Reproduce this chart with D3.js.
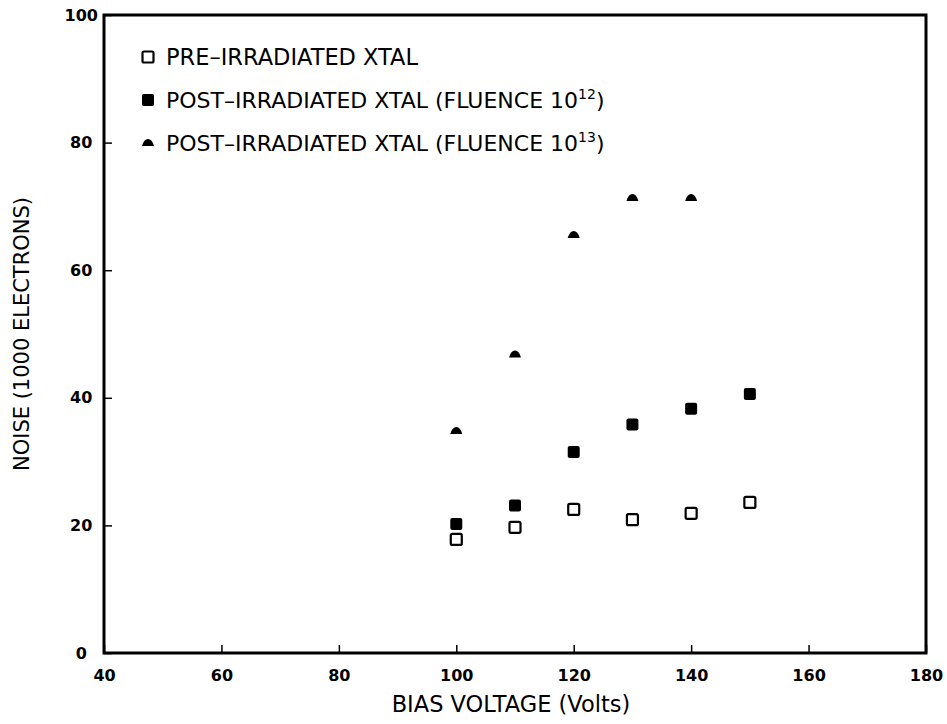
<!DOCTYPE html>
<html>
<head>
<meta charset="utf-8">
<script src="https://cdn.jsdelivr.net/npm/d3@7"></script>
<style>
  body { margin: 0; background: #fff; }
  text { font-family: "DejaVu Sans", sans-serif; fill: #000; }
</style>
</head>
<body>
<svg id="chart" width="947" height="724"></svg>
<script>
// bias voltage (Volts)
const voltages = [100, 110, 120, 130, 140, 150];
const voltages13 = [100, 110, 120, 130, 140];

// noise (1000 electrons)
const preIrradiated = [17.8, 19.7, 22.5, 20.9, 21.9, 23.6];
const postFluence12 = [20.2, 23.1, 31.5, 35.8, 38.3, 40.6];
const postFluence13 = [34.8, 46.8, 65.5, 71.3, 71.3];

const xTicks = [40, 60, 80, 100, 120, 140, 160, 180];
const yTicks = [0, 20, 40, 60, 80, 100];

const svg = d3.select("#chart");

const plotLeft = 104, plotRight = 926, plotTop = 15, plotBottom = 653;

const x = d3.scaleLinear().domain([40, 180]).range([plotLeft, plotRight]);
const y = d3.scaleLinear().domain([0, 100]).range([plotBottom, plotTop]);

// frame
svg.append("rect")
    .attr("x", plotLeft)
    .attr("y", plotTop)
    .attr("width", plotRight - plotLeft)
    .attr("height", plotBottom - plotTop)
    .attr("fill", "none")
    .attr("stroke", "#000")
    .attr("stroke-width", 3);

// axes with small inward ticks
const xAxis = svg.append("g")
    .attr("transform", "translate(0," + plotBottom + ")")
    .call(d3.axisBottom(x).tickValues(xTicks).tickSize(-8).tickPadding(17).tickFormat(d3.format("d")));
xAxis.select(".domain").remove();
xAxis.selectAll("line").attr("stroke-width", 1.5);
xAxis.selectAll("text")
    .style("font-size", "16px")
    .style("font-weight", "bold");

const yAxis = svg.append("g")
    .attr("transform", "translate(" + plotLeft + ",0)")
    .call(d3.axisLeft(y).tickValues(yTicks).tickSize(-8).tickPadding(42).tickFormat(d3.format("d")));
yAxis.select(".domain").remove();
yAxis.selectAll("line").attr("stroke-width", 1.5);
yAxis.selectAll("text")
    .style("font-size", "16px")
    .style("font-weight", "bold")
    .attr("text-anchor", "middle")
    .attr("dx", "1.2em");

// axis titles
svg.append("text")
    .attr("x", (plotLeft + plotRight) / 2 - 4)
    .attr("y", 712)
    .attr("text-anchor", "middle")
    .style("font-size", "22.5px")
    .text("BIAS VOLTAGE (Volts)");

svg.append("text")
    .attr("transform", "translate(29," + ((plotTop + plotBottom) / 2) + ") rotate(-90)")
    .attr("text-anchor", "middle")
    .style("font-size", "21px")
    .text("NOISE (1000 ELECTRONS)");

// marker helpers
function openSquare(g, cx, cy) {
    g.append("rect")
        .attr("x", cx - 5.5).attr("y", cy - 5.5)
        .attr("width", 11).attr("height", 11)
        .attr("rx", 1.5)
        .attr("fill", "#fff")
        .attr("stroke", "#000")
        .attr("stroke-width", 2.2);
}

function filledSquare(g, cx, cy) {
    g.append("rect")
        .attr("x", cx - 6).attr("y", cy - 6)
        .attr("width", 12).attr("height", 12)
        .attr("rx", 2)
        .attr("fill", "#000");
}

function dome(g, cx, cy) {
    g.append("path")
        .attr("d", "M" + (cx - 6) + "," + (cy + 3) +
            " Q" + (cx - 4) + "," + (cy - 4) + " " + cx + "," + (cy - 4) +
            " Q" + (cx + 4) + "," + (cy - 4) + " " + (cx + 6) + "," + (cy + 3) + " Z")
        .attr("fill", "#000");
}

const points = svg.append("g");

voltages.forEach((v, i) => openSquare(points, x(v), y(preIrradiated[i])));
voltages.forEach((v, i) => filledSquare(points, x(v), y(postFluence12[i])));
voltages13.forEach((v, i) => dome(points, x(v), y(postFluence13[i])));

// legend
const legend = svg.append("g").attr("class", "legend");
const legendX = 148, textX = 166;
const legendRows = [57, 100, 143];

openSquare(legend, legendX, legendRows[0]);
filledSquare(legend, legendX, legendRows[1]);
dome(legend, legendX, legendRows[2]);

legend.append("text")
    .attr("x", textX).attr("y", legendRows[0] + 8)
    .style("font-size", "22.5px")
    .text("PRE\u2013IRRADIATED XTAL");

const sup12 = legend.append("text")
    .attr("x", textX).attr("y", legendRows[1] + 8)
    .style("font-size", "22px");
sup12.append("tspan").text("POST\u2013IRRADIATED XTAL (FLUENCE 10");
sup12.append("tspan").attr("dy", -9).style("font-size", "14px").text("12");
sup12.append("tspan").attr("dy", 9).text(")");

const sup13 = legend.append("text")
    .attr("x", textX).attr("y", legendRows[2] + 8)
    .style("font-size", "22px");
sup13.append("tspan").text("POST\u2013IRRADIATED XTAL (FLUENCE 10");
sup13.append("tspan").attr("dy", -9).style("font-size", "14px").text("13");
sup13.append("tspan").attr("dy", 9).text(")");
</script>
</body>
</html>
